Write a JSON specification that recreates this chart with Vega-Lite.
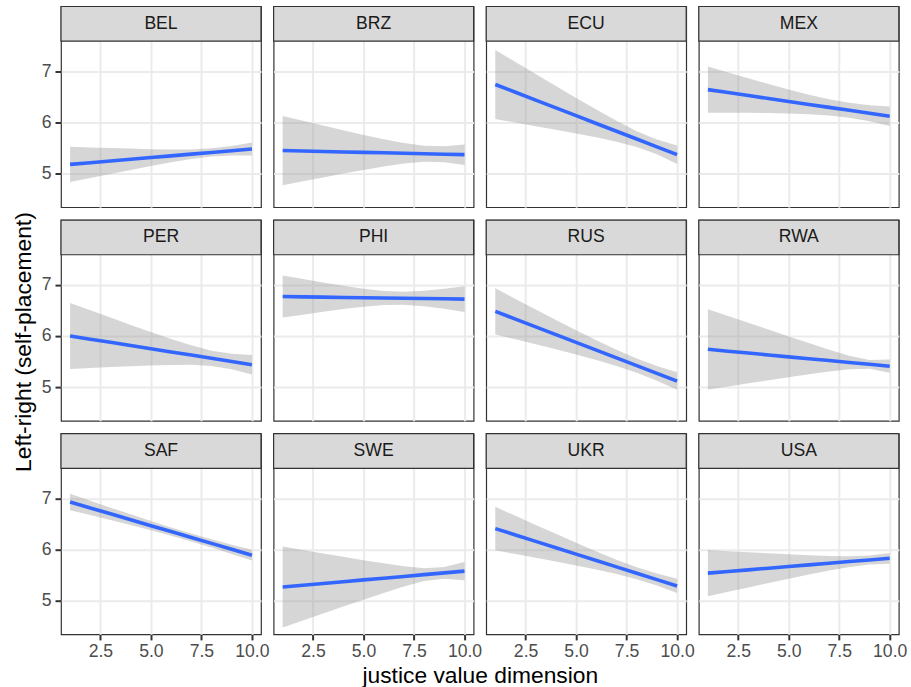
{
  "$schema": "https://vega.github.io/schema/vega-lite/v6.json",
  "padding": {"left": 11, "top": 4.5, "right": 5, "bottom": 2},
  "background": "white",
  "data": {"values": [
    {"country":"BEL","x":1,"fit":5.18,"lo":4.835,"hi":5.525},
    {"country":"BEL","x":2,"fit":5.213,"lo":4.914,"hi":5.512},
    {"country":"BEL","x":3,"fit":5.247,"lo":4.994,"hi":5.50},
    {"country":"BEL","x":4,"fit":5.28,"lo":5.072,"hi":5.488},
    {"country":"BEL","x":5,"fit":5.313,"lo":5.148,"hi":5.478},
    {"country":"BEL","x":6,"fit":5.347,"lo":5.222,"hi":5.472},
    {"country":"BEL","x":7,"fit":5.38,"lo":5.287,"hi":5.473},
    {"country":"BEL","x":8,"fit":5.413,"lo":5.333,"hi":5.493},
    {"country":"BEL","x":9,"fit":5.447,"lo":5.354,"hi":5.54},
    {"country":"BEL","x":10,"fit":5.48,"lo":5.355,"hi":5.605},
    {"country":"BRZ","x":1,"fit":5.45,"lo":4.775,"hi":6.125},
    {"country":"BRZ","x":2,"fit":5.441,"lo":4.851,"hi":6.031},
    {"country":"BRZ","x":3,"fit":5.432,"lo":4.926,"hi":5.938},
    {"country":"BRZ","x":4,"fit":5.423,"lo":5.0,"hi":5.846},
    {"country":"BRZ","x":5,"fit":5.414,"lo":5.072,"hi":5.756},
    {"country":"BRZ","x":6,"fit":5.406,"lo":5.14,"hi":5.672},
    {"country":"BRZ","x":7,"fit":5.397,"lo":5.197,"hi":5.597},
    {"country":"BRZ","x":8,"fit":5.388,"lo":5.231,"hi":5.545},
    {"country":"BRZ","x":9,"fit":5.379,"lo":5.222,"hi":5.536},
    {"country":"BRZ","x":10,"fit":5.37,"lo":5.17,"hi":5.57},
    {"country":"ECU","x":1,"fit":6.74,"lo":6.065,"hi":7.415},
    {"country":"ECU","x":2,"fit":6.588,"lo":5.996,"hi":7.18},
    {"country":"ECU","x":3,"fit":6.436,"lo":5.927,"hi":6.945},
    {"country":"ECU","x":4,"fit":6.283,"lo":5.856,"hi":6.71},
    {"country":"ECU","x":5,"fit":6.131,"lo":5.784,"hi":6.478},
    {"country":"ECU","x":6,"fit":5.979,"lo":5.708,"hi":6.25},
    {"country":"ECU","x":7,"fit":5.827,"lo":5.624,"hi":6.03},
    {"country":"ECU","x":8,"fit":5.675,"lo":5.521,"hi":5.829},
    {"country":"ECU","x":9,"fit":5.522,"lo":5.378,"hi":5.666},
    {"country":"ECU","x":10,"fit":5.37,"lo":5.19,"hi":5.55},
    {"country":"MEX","x":1,"fit":6.64,"lo":6.19,"hi":7.09},
    {"country":"MEX","x":2,"fit":6.582,"lo":6.189,"hi":6.975},
    {"country":"MEX","x":3,"fit":6.524,"lo":6.187,"hi":6.861},
    {"country":"MEX","x":4,"fit":6.467,"lo":6.183,"hi":6.751},
    {"country":"MEX","x":5,"fit":6.409,"lo":6.175,"hi":6.643},
    {"country":"MEX","x":6,"fit":6.351,"lo":6.161,"hi":6.541},
    {"country":"MEX","x":7,"fit":6.293,"lo":6.135,"hi":6.451},
    {"country":"MEX","x":8,"fit":6.236,"lo":6.09,"hi":6.382},
    {"country":"MEX","x":9,"fit":6.178,"lo":6.02,"hi":6.336},
    {"country":"MEX","x":10,"fit":6.12,"lo":5.93,"hi":6.31},
    {"country":"PER","x":1,"fit":6.0,"lo":5.355,"hi":6.645},
    {"country":"PER","x":2,"fit":5.938,"lo":5.375,"hi":6.501},
    {"country":"PER","x":3,"fit":5.876,"lo":5.393,"hi":6.359},
    {"country":"PER","x":4,"fit":5.813,"lo":5.41,"hi":6.216},
    {"country":"PER","x":5,"fit":5.751,"lo":5.425,"hi":6.077},
    {"country":"PER","x":6,"fit":5.689,"lo":5.436,"hi":5.942},
    {"country":"PER","x":7,"fit":5.627,"lo":5.437,"hi":5.817},
    {"country":"PER","x":8,"fit":5.564,"lo":5.415,"hi":5.713},
    {"country":"PER","x":9,"fit":5.502,"lo":5.353,"hi":5.651},
    {"country":"PER","x":10,"fit":5.44,"lo":5.25,"hi":5.63},
    {"country":"PHI","x":1,"fit":6.77,"lo":6.36,"hi":7.18},
    {"country":"PHI","x":2,"fit":6.764,"lo":6.417,"hi":7.111},
    {"country":"PHI","x":3,"fit":6.759,"lo":6.474,"hi":7.044},
    {"country":"PHI","x":4,"fit":6.753,"lo":6.526,"hi":6.98},
    {"country":"PHI","x":5,"fit":6.748,"lo":6.572,"hi":6.924},
    {"country":"PHI","x":6,"fit":6.742,"lo":6.603,"hi":6.881},
    {"country":"PHI","x":7,"fit":6.737,"lo":6.608,"hi":6.866},
    {"country":"PHI","x":8,"fit":6.731,"lo":6.58,"hi":6.882},
    {"country":"PHI","x":9,"fit":6.726,"lo":6.531,"hi":6.921},
    {"country":"PHI","x":10,"fit":6.72,"lo":6.47,"hi":6.97},
    {"country":"RUS","x":1,"fit":6.48,"lo":6.03,"hi":6.93},
    {"country":"RUS","x":2,"fit":6.329,"lo":5.935,"hi":6.723},
    {"country":"RUS","x":3,"fit":6.178,"lo":5.838,"hi":6.518},
    {"country":"RUS","x":4,"fit":6.027,"lo":5.74,"hi":6.314},
    {"country":"RUS","x":5,"fit":5.876,"lo":5.638,"hi":6.114},
    {"country":"RUS","x":6,"fit":5.724,"lo":5.531,"hi":5.917},
    {"country":"RUS","x":7,"fit":5.573,"lo":5.416,"hi":5.73},
    {"country":"RUS","x":8,"fit":5.422,"lo":5.283,"hi":5.561},
    {"country":"RUS","x":9,"fit":5.271,"lo":5.127,"hi":5.415},
    {"country":"RUS","x":10,"fit":5.12,"lo":4.95,"hi":5.29},
    {"country":"RWA","x":1,"fit":5.74,"lo":4.956,"hi":6.524},
    {"country":"RWA","x":2,"fit":5.703,"lo":5.015,"hi":6.391},
    {"country":"RWA","x":3,"fit":5.667,"lo":5.076,"hi":6.258},
    {"country":"RWA","x":4,"fit":5.63,"lo":5.135,"hi":6.125},
    {"country":"RWA","x":5,"fit":5.593,"lo":5.194,"hi":5.992},
    {"country":"RWA","x":6,"fit":5.557,"lo":5.252,"hi":5.862},
    {"country":"RWA","x":7,"fit":5.52,"lo":5.307,"hi":5.733},
    {"country":"RWA","x":8,"fit":5.483,"lo":5.353,"hi":5.613},
    {"country":"RWA","x":9,"fit":5.447,"lo":5.361,"hi":5.533},
    {"country":"RWA","x":10,"fit":5.41,"lo":5.28,"hi":5.54},
    {"country":"SAF","x":1,"fit":6.93,"lo":6.77,"hi":7.09},
    {"country":"SAF","x":2,"fit":6.814,"lo":6.674,"hi":6.954},
    {"country":"SAF","x":3,"fit":6.698,"lo":6.577,"hi":6.819},
    {"country":"SAF","x":4,"fit":6.583,"lo":6.478,"hi":6.688},
    {"country":"SAF","x":5,"fit":6.467,"lo":6.376,"hi":6.558},
    {"country":"SAF","x":6,"fit":6.352,"lo":6.271,"hi":6.433},
    {"country":"SAF","x":7,"fit":6.236,"lo":6.158,"hi":6.314},
    {"country":"SAF","x":8,"fit":6.121,"lo":6.04,"hi":6.202},
    {"country":"SAF","x":9,"fit":6.005,"lo":5.914,"hi":6.096},
    {"country":"SAF","x":10,"fit":5.89,"lo":5.785,"hi":5.995},
    {"country":"SWE","x":1,"fit":5.27,"lo":4.48,"hi":6.06},
    {"country":"SWE","x":2,"fit":5.304,"lo":4.616,"hi":5.992},
    {"country":"SWE","x":3,"fit":5.339,"lo":4.752,"hi":5.926},
    {"country":"SWE","x":4,"fit":5.373,"lo":4.887,"hi":5.859},
    {"country":"SWE","x":5,"fit":5.408,"lo":5.022,"hi":5.794},
    {"country":"SWE","x":6,"fit":5.442,"lo":5.153,"hi":5.731},
    {"country":"SWE","x":7,"fit":5.476,"lo":5.279,"hi":5.673},
    {"country":"SWE","x":8,"fit":5.511,"lo":5.387,"hi":5.635},
    {"country":"SWE","x":9,"fit":5.545,"lo":5.43,"hi":5.66},
    {"country":"SWE","x":10,"fit":5.58,"lo":5.40,"hi":5.76},
    {"country":"UKR","x":1,"fit":6.41,"lo":5.985,"hi":6.835},
    {"country":"UKR","x":2,"fit":6.286,"lo":5.913,"hi":6.659},
    {"country":"UKR","x":3,"fit":6.161,"lo":5.84,"hi":6.482},
    {"country":"UKR","x":4,"fit":6.037,"lo":5.766,"hi":6.308},
    {"country":"UKR","x":5,"fit":5.912,"lo":5.69,"hi":6.134},
    {"country":"UKR","x":6,"fit":5.788,"lo":5.611,"hi":5.965},
    {"country":"UKR","x":7,"fit":5.663,"lo":5.523,"hi":5.803},
    {"country":"UKR","x":8,"fit":5.539,"lo":5.422,"hi":5.656},
    {"country":"UKR","x":9,"fit":5.414,"lo":5.297,"hi":5.531},
    {"country":"UKR","x":10,"fit":5.29,"lo":5.15,"hi":5.43},
    {"country":"USA","x":1,"fit":5.54,"lo":5.09,"hi":5.99},
    {"country":"USA","x":2,"fit":5.572,"lo":5.176,"hi":5.968},
    {"country":"USA","x":3,"fit":5.604,"lo":5.261,"hi":5.947},
    {"country":"USA","x":4,"fit":5.637,"lo":5.347,"hi":5.927},
    {"country":"USA","x":5,"fit":5.669,"lo":5.431,"hi":5.907},
    {"country":"USA","x":6,"fit":5.701,"lo":5.513,"hi":5.889},
    {"country":"USA","x":7,"fit":5.733,"lo":5.591,"hi":5.875},
    {"country":"USA","x":8,"fit":5.766,"lo":5.661,"hi":5.871},
    {"country":"USA","x":9,"fit":5.798,"lo":5.709,"hi":5.887},
    {"country":"USA","x":10,"fit":5.83,"lo":5.725,"hi":5.935}
  ]},
  "columns": 4,
  "spacing": {"row": 12.6, "column": 12.6},
  "bounds": "flush",
  "concat": [
    {"width":200,"height":200.7,"transform":[{"filter":"datum.country == 'BEL'"}],"resolve":{"axis":{"x":"independent","y":"independent"}},"layer":[
      {"mark":{"type":"area","color":"#999999","opacity":0.4},"encoding":{
        "x":{"field":"x","type":"quantitative","scale":{"domain":[0.55,10.45],"nice":false,"zero":false},"axis":{"values":[2.5,5,7.5,10],"gridWidth":2,"labels":false,"ticks":false,"title":null}},
        "y":{"field":"lo","type":"quantitative","scale":{"domain":[4.344,8.263],"nice":false,"zero":false},"axis":{"values":[5,6,7],"format":"d","gridWidth":2,"title":null}},
        "y2":{"field":"hi"}}},
      {"mark":{"type":"line","color":"#3366FF","strokeWidth":3.6},"encoding":{"x":{"field":"x","type":"quantitative","axis":{"values":[1.25,3.75,6.25,8.75],"gridWidth":1,"labels":false,"ticks":false,"title":null,"orient":"top"}},"y":{"field":"fit","type":"quantitative","axis":{"values":[4.5,5.5,6.5,7.5],"gridWidth":1,"labels":false,"ticks":false,"title":null,"orient":"right"}}}},
      {"transform":[{"filter":"datum.x == 1"}],"mark":{"type":"rect","fill":"#D9D9D9","stroke":"#333333","strokeWidth":1.2},"encoding":{"x":{"datum":0.55,"type":"quantitative","axis":null},"x2":{"datum":10.45},"y":{"datum":7.586,"type":"quantitative","axis":null},"y2":{"datum":8.263}}},
      {"transform":[{"filter":"datum.x == 1"}],"mark":{"type":"text","font":"Liberation Sans","fontSize":17.6,"color":"#1A1A1A","baseline":"middle","align":"center"},"encoding":{"x":{"datum":5.5,"type":"quantitative","axis":null},"y":{"datum":7.925,"type":"quantitative","axis":null},"text":{"field":"country","type":"nominal"}}}
    ]},
    {"width":200,"height":200.7,"transform":[{"filter":"datum.country == 'BRZ'"}],"resolve":{"axis":{"x":"independent","y":"independent"}},"layer":[
      {"mark":{"type":"area","color":"#999999","opacity":0.4},"encoding":{
        "x":{"field":"x","type":"quantitative","scale":{"domain":[0.55,10.45],"nice":false,"zero":false},"axis":{"values":[2.5,5,7.5,10],"gridWidth":2,"labels":false,"ticks":false,"title":null}},
        "y":{"field":"lo","type":"quantitative","scale":{"domain":[4.344,8.263],"nice":false,"zero":false},"axis":{"values":[5,6,7],"gridWidth":2,"labels":false,"ticks":false,"title":null}},
        "y2":{"field":"hi"}}},
      {"mark":{"type":"line","color":"#3366FF","strokeWidth":3.6},"encoding":{"x":{"field":"x","type":"quantitative","axis":{"values":[1.25,3.75,6.25,8.75],"gridWidth":1,"labels":false,"ticks":false,"title":null,"orient":"top"}},"y":{"field":"fit","type":"quantitative","axis":{"values":[4.5,5.5,6.5,7.5],"gridWidth":1,"labels":false,"ticks":false,"title":null,"orient":"right"}}}},
      {"transform":[{"filter":"datum.x == 1"}],"mark":{"type":"rect","fill":"#D9D9D9","stroke":"#333333","strokeWidth":1.2},"encoding":{"x":{"datum":0.55,"type":"quantitative","axis":null},"x2":{"datum":10.45},"y":{"datum":7.586,"type":"quantitative","axis":null},"y2":{"datum":8.263}}},
      {"transform":[{"filter":"datum.x == 1"}],"mark":{"type":"text","font":"Liberation Sans","fontSize":17.6,"color":"#1A1A1A","baseline":"middle","align":"center"},"encoding":{"x":{"datum":5.5,"type":"quantitative","axis":null},"y":{"datum":7.925,"type":"quantitative","axis":null},"text":{"field":"country","type":"nominal"}}}
    ]},
    {"width":200,"height":200.7,"transform":[{"filter":"datum.country == 'ECU'"}],"resolve":{"axis":{"x":"independent","y":"independent"}},"layer":[
      {"mark":{"type":"area","color":"#999999","opacity":0.4},"encoding":{
        "x":{"field":"x","type":"quantitative","scale":{"domain":[0.55,10.45],"nice":false,"zero":false},"axis":{"values":[2.5,5,7.5,10],"gridWidth":2,"labels":false,"ticks":false,"title":null}},
        "y":{"field":"lo","type":"quantitative","scale":{"domain":[4.344,8.263],"nice":false,"zero":false},"axis":{"values":[5,6,7],"gridWidth":2,"labels":false,"ticks":false,"title":null}},
        "y2":{"field":"hi"}}},
      {"mark":{"type":"line","color":"#3366FF","strokeWidth":3.6},"encoding":{"x":{"field":"x","type":"quantitative","axis":{"values":[1.25,3.75,6.25,8.75],"gridWidth":1,"labels":false,"ticks":false,"title":null,"orient":"top"}},"y":{"field":"fit","type":"quantitative","axis":{"values":[4.5,5.5,6.5,7.5],"gridWidth":1,"labels":false,"ticks":false,"title":null,"orient":"right"}}}},
      {"transform":[{"filter":"datum.x == 1"}],"mark":{"type":"rect","fill":"#D9D9D9","stroke":"#333333","strokeWidth":1.2},"encoding":{"x":{"datum":0.55,"type":"quantitative","axis":null},"x2":{"datum":10.45},"y":{"datum":7.586,"type":"quantitative","axis":null},"y2":{"datum":8.263}}},
      {"transform":[{"filter":"datum.x == 1"}],"mark":{"type":"text","font":"Liberation Sans","fontSize":17.6,"color":"#1A1A1A","baseline":"middle","align":"center"},"encoding":{"x":{"datum":5.5,"type":"quantitative","axis":null},"y":{"datum":7.925,"type":"quantitative","axis":null},"text":{"field":"country","type":"nominal"}}}
    ]},
    {"width":200,"height":200.7,"transform":[{"filter":"datum.country == 'MEX'"}],"resolve":{"axis":{"x":"independent","y":"independent"}},"layer":[
      {"mark":{"type":"area","color":"#999999","opacity":0.4},"encoding":{
        "x":{"field":"x","type":"quantitative","scale":{"domain":[0.55,10.45],"nice":false,"zero":false},"axis":{"values":[2.5,5,7.5,10],"gridWidth":2,"labels":false,"ticks":false,"title":null}},
        "y":{"field":"lo","type":"quantitative","scale":{"domain":[4.344,8.263],"nice":false,"zero":false},"axis":{"values":[5,6,7],"gridWidth":2,"labels":false,"ticks":false,"title":null}},
        "y2":{"field":"hi"}}},
      {"mark":{"type":"line","color":"#3366FF","strokeWidth":3.6},"encoding":{"x":{"field":"x","type":"quantitative","axis":{"values":[1.25,3.75,6.25,8.75],"gridWidth":1,"labels":false,"ticks":false,"title":null,"orient":"top"}},"y":{"field":"fit","type":"quantitative","axis":{"values":[4.5,5.5,6.5,7.5],"gridWidth":1,"labels":false,"ticks":false,"title":null,"orient":"right"}}}},
      {"transform":[{"filter":"datum.x == 1"}],"mark":{"type":"rect","fill":"#D9D9D9","stroke":"#333333","strokeWidth":1.2},"encoding":{"x":{"datum":0.55,"type":"quantitative","axis":null},"x2":{"datum":10.45},"y":{"datum":7.586,"type":"quantitative","axis":null},"y2":{"datum":8.263}}},
      {"transform":[{"filter":"datum.x == 1"}],"mark":{"type":"text","font":"Liberation Sans","fontSize":17.6,"color":"#1A1A1A","baseline":"middle","align":"center"},"encoding":{"x":{"datum":5.5,"type":"quantitative","axis":null},"y":{"datum":7.925,"type":"quantitative","axis":null},"text":{"field":"country","type":"nominal"}}}
    ]},
    {"width":200,"height":200.7,"transform":[{"filter":"datum.country == 'PER'"}],"resolve":{"axis":{"x":"independent","y":"independent"}},"layer":[
      {"mark":{"type":"area","color":"#999999","opacity":0.4},"encoding":{
        "x":{"field":"x","type":"quantitative","scale":{"domain":[0.55,10.45],"nice":false,"zero":false},"axis":{"values":[2.5,5,7.5,10],"gridWidth":2,"labels":false,"ticks":false,"title":null}},
        "y":{"field":"lo","type":"quantitative","scale":{"domain":[4.344,8.263],"nice":false,"zero":false},"axis":{"values":[5,6,7],"format":"d","gridWidth":2,"title":"Left-right (self-placement)","titleY":121.5}},
        "y2":{"field":"hi"}}},
      {"mark":{"type":"line","color":"#3366FF","strokeWidth":3.6},"encoding":{"x":{"field":"x","type":"quantitative","axis":{"values":[1.25,3.75,6.25,8.75],"gridWidth":1,"labels":false,"ticks":false,"title":null,"orient":"top"}},"y":{"field":"fit","type":"quantitative","axis":{"values":[4.5,5.5,6.5,7.5],"gridWidth":1,"labels":false,"ticks":false,"title":null,"orient":"right"}}}},
      {"transform":[{"filter":"datum.x == 1"}],"mark":{"type":"rect","fill":"#D9D9D9","stroke":"#333333","strokeWidth":1.2},"encoding":{"x":{"datum":0.55,"type":"quantitative","axis":null},"x2":{"datum":10.45},"y":{"datum":7.586,"type":"quantitative","axis":null},"y2":{"datum":8.263}}},
      {"transform":[{"filter":"datum.x == 1"}],"mark":{"type":"text","font":"Liberation Sans","fontSize":17.6,"color":"#1A1A1A","baseline":"middle","align":"center"},"encoding":{"x":{"datum":5.5,"type":"quantitative","axis":null},"y":{"datum":7.925,"type":"quantitative","axis":null},"text":{"field":"country","type":"nominal"}}}
    ]},
    {"width":200,"height":200.7,"transform":[{"filter":"datum.country == 'PHI'"}],"resolve":{"axis":{"x":"independent","y":"independent"}},"layer":[
      {"mark":{"type":"area","color":"#999999","opacity":0.4},"encoding":{
        "x":{"field":"x","type":"quantitative","scale":{"domain":[0.55,10.45],"nice":false,"zero":false},"axis":{"values":[2.5,5,7.5,10],"gridWidth":2,"labels":false,"ticks":false,"title":null}},
        "y":{"field":"lo","type":"quantitative","scale":{"domain":[4.344,8.263],"nice":false,"zero":false},"axis":{"values":[5,6,7],"gridWidth":2,"labels":false,"ticks":false,"title":null}},
        "y2":{"field":"hi"}}},
      {"mark":{"type":"line","color":"#3366FF","strokeWidth":3.6},"encoding":{"x":{"field":"x","type":"quantitative","axis":{"values":[1.25,3.75,6.25,8.75],"gridWidth":1,"labels":false,"ticks":false,"title":null,"orient":"top"}},"y":{"field":"fit","type":"quantitative","axis":{"values":[4.5,5.5,6.5,7.5],"gridWidth":1,"labels":false,"ticks":false,"title":null,"orient":"right"}}}},
      {"transform":[{"filter":"datum.x == 1"}],"mark":{"type":"rect","fill":"#D9D9D9","stroke":"#333333","strokeWidth":1.2},"encoding":{"x":{"datum":0.55,"type":"quantitative","axis":null},"x2":{"datum":10.45},"y":{"datum":7.586,"type":"quantitative","axis":null},"y2":{"datum":8.263}}},
      {"transform":[{"filter":"datum.x == 1"}],"mark":{"type":"text","font":"Liberation Sans","fontSize":17.6,"color":"#1A1A1A","baseline":"middle","align":"center"},"encoding":{"x":{"datum":5.5,"type":"quantitative","axis":null},"y":{"datum":7.925,"type":"quantitative","axis":null},"text":{"field":"country","type":"nominal"}}}
    ]},
    {"width":200,"height":200.7,"transform":[{"filter":"datum.country == 'RUS'"}],"resolve":{"axis":{"x":"independent","y":"independent"}},"layer":[
      {"mark":{"type":"area","color":"#999999","opacity":0.4},"encoding":{
        "x":{"field":"x","type":"quantitative","scale":{"domain":[0.55,10.45],"nice":false,"zero":false},"axis":{"values":[2.5,5,7.5,10],"gridWidth":2,"labels":false,"ticks":false,"title":null}},
        "y":{"field":"lo","type":"quantitative","scale":{"domain":[4.344,8.263],"nice":false,"zero":false},"axis":{"values":[5,6,7],"gridWidth":2,"labels":false,"ticks":false,"title":null}},
        "y2":{"field":"hi"}}},
      {"mark":{"type":"line","color":"#3366FF","strokeWidth":3.6},"encoding":{"x":{"field":"x","type":"quantitative","axis":{"values":[1.25,3.75,6.25,8.75],"gridWidth":1,"labels":false,"ticks":false,"title":null,"orient":"top"}},"y":{"field":"fit","type":"quantitative","axis":{"values":[4.5,5.5,6.5,7.5],"gridWidth":1,"labels":false,"ticks":false,"title":null,"orient":"right"}}}},
      {"transform":[{"filter":"datum.x == 1"}],"mark":{"type":"rect","fill":"#D9D9D9","stroke":"#333333","strokeWidth":1.2},"encoding":{"x":{"datum":0.55,"type":"quantitative","axis":null},"x2":{"datum":10.45},"y":{"datum":7.586,"type":"quantitative","axis":null},"y2":{"datum":8.263}}},
      {"transform":[{"filter":"datum.x == 1"}],"mark":{"type":"text","font":"Liberation Sans","fontSize":17.6,"color":"#1A1A1A","baseline":"middle","align":"center"},"encoding":{"x":{"datum":5.5,"type":"quantitative","axis":null},"y":{"datum":7.925,"type":"quantitative","axis":null},"text":{"field":"country","type":"nominal"}}}
    ]},
    {"width":200,"height":200.7,"transform":[{"filter":"datum.country == 'RWA'"}],"resolve":{"axis":{"x":"independent","y":"independent"}},"layer":[
      {"mark":{"type":"area","color":"#999999","opacity":0.4},"encoding":{
        "x":{"field":"x","type":"quantitative","scale":{"domain":[0.55,10.45],"nice":false,"zero":false},"axis":{"values":[2.5,5,7.5,10],"gridWidth":2,"labels":false,"ticks":false,"title":null}},
        "y":{"field":"lo","type":"quantitative","scale":{"domain":[4.344,8.263],"nice":false,"zero":false},"axis":{"values":[5,6,7],"gridWidth":2,"labels":false,"ticks":false,"title":null}},
        "y2":{"field":"hi"}}},
      {"mark":{"type":"line","color":"#3366FF","strokeWidth":3.6},"encoding":{"x":{"field":"x","type":"quantitative","axis":{"values":[1.25,3.75,6.25,8.75],"gridWidth":1,"labels":false,"ticks":false,"title":null,"orient":"top"}},"y":{"field":"fit","type":"quantitative","axis":{"values":[4.5,5.5,6.5,7.5],"gridWidth":1,"labels":false,"ticks":false,"title":null,"orient":"right"}}}},
      {"transform":[{"filter":"datum.x == 1"}],"mark":{"type":"rect","fill":"#D9D9D9","stroke":"#333333","strokeWidth":1.2},"encoding":{"x":{"datum":0.55,"type":"quantitative","axis":null},"x2":{"datum":10.45},"y":{"datum":7.586,"type":"quantitative","axis":null},"y2":{"datum":8.263}}},
      {"transform":[{"filter":"datum.x == 1"}],"mark":{"type":"text","font":"Liberation Sans","fontSize":17.6,"color":"#1A1A1A","baseline":"middle","align":"center"},"encoding":{"x":{"datum":5.5,"type":"quantitative","axis":null},"y":{"datum":7.925,"type":"quantitative","axis":null},"text":{"field":"country","type":"nominal"}}}
    ]},
    {"width":200,"height":200.7,"transform":[{"filter":"datum.country == 'SAF'"}],"resolve":{"axis":{"x":"independent","y":"independent"}},"layer":[
      {"mark":{"type":"area","color":"#999999","opacity":0.4},"encoding":{
        "x":{"field":"x","type":"quantitative","scale":{"domain":[0.55,10.45],"nice":false,"zero":false},"axis":{"values":[2.5,5,7.5,10],"format":".1f","labelFlush":false,"gridWidth":2,"title":null}},
        "y":{"field":"lo","type":"quantitative","scale":{"domain":[4.344,8.263],"nice":false,"zero":false},"axis":{"values":[5,6,7],"format":"d","gridWidth":2,"title":null}},
        "y2":{"field":"hi"}}},
      {"mark":{"type":"line","color":"#3366FF","strokeWidth":3.6},"encoding":{"x":{"field":"x","type":"quantitative","axis":{"values":[1.25,3.75,6.25,8.75],"gridWidth":1,"labels":false,"ticks":false,"title":null,"orient":"top"}},"y":{"field":"fit","type":"quantitative","axis":{"values":[4.5,5.5,6.5,7.5],"gridWidth":1,"labels":false,"ticks":false,"title":null,"orient":"right"}}}},
      {"transform":[{"filter":"datum.x == 1"}],"mark":{"type":"rect","fill":"#D9D9D9","stroke":"#333333","strokeWidth":1.2},"encoding":{"x":{"datum":0.55,"type":"quantitative","axis":null},"x2":{"datum":10.45},"y":{"datum":7.586,"type":"quantitative","axis":null},"y2":{"datum":8.263}}},
      {"transform":[{"filter":"datum.x == 1"}],"mark":{"type":"text","font":"Liberation Sans","fontSize":17.6,"color":"#1A1A1A","baseline":"middle","align":"center"},"encoding":{"x":{"datum":5.5,"type":"quantitative","axis":null},"y":{"datum":7.925,"type":"quantitative","axis":null},"text":{"field":"country","type":"nominal"}}}
    ]},
    {"width":200,"height":200.7,"transform":[{"filter":"datum.country == 'SWE'"}],"resolve":{"axis":{"x":"independent","y":"independent"}},"layer":[
      {"mark":{"type":"area","color":"#999999","opacity":0.4},"encoding":{
        "x":{"field":"x","type":"quantitative","scale":{"domain":[0.55,10.45],"nice":false,"zero":false},"axis":{"values":[2.5,5,7.5,10],"format":".1f","labelFlush":false,"gridWidth":2,"title":"justice value dimension","titleX":206.2}},
        "y":{"field":"lo","type":"quantitative","scale":{"domain":[4.344,8.263],"nice":false,"zero":false},"axis":{"values":[5,6,7],"gridWidth":2,"labels":false,"ticks":false,"title":null}},
        "y2":{"field":"hi"}}},
      {"mark":{"type":"line","color":"#3366FF","strokeWidth":3.6},"encoding":{"x":{"field":"x","type":"quantitative","axis":{"values":[1.25,3.75,6.25,8.75],"gridWidth":1,"labels":false,"ticks":false,"title":null,"orient":"top"}},"y":{"field":"fit","type":"quantitative","axis":{"values":[4.5,5.5,6.5,7.5],"gridWidth":1,"labels":false,"ticks":false,"title":null,"orient":"right"}}}},
      {"transform":[{"filter":"datum.x == 1"}],"mark":{"type":"rect","fill":"#D9D9D9","stroke":"#333333","strokeWidth":1.2},"encoding":{"x":{"datum":0.55,"type":"quantitative","axis":null},"x2":{"datum":10.45},"y":{"datum":7.586,"type":"quantitative","axis":null},"y2":{"datum":8.263}}},
      {"transform":[{"filter":"datum.x == 1"}],"mark":{"type":"text","font":"Liberation Sans","fontSize":17.6,"color":"#1A1A1A","baseline":"middle","align":"center"},"encoding":{"x":{"datum":5.5,"type":"quantitative","axis":null},"y":{"datum":7.925,"type":"quantitative","axis":null},"text":{"field":"country","type":"nominal"}}}
    ]},
    {"width":200,"height":200.7,"transform":[{"filter":"datum.country == 'UKR'"}],"resolve":{"axis":{"x":"independent","y":"independent"}},"layer":[
      {"mark":{"type":"area","color":"#999999","opacity":0.4},"encoding":{
        "x":{"field":"x","type":"quantitative","scale":{"domain":[0.55,10.45],"nice":false,"zero":false},"axis":{"values":[2.5,5,7.5,10],"format":".1f","labelFlush":false,"gridWidth":2,"title":null}},
        "y":{"field":"lo","type":"quantitative","scale":{"domain":[4.344,8.263],"nice":false,"zero":false},"axis":{"values":[5,6,7],"gridWidth":2,"labels":false,"ticks":false,"title":null}},
        "y2":{"field":"hi"}}},
      {"mark":{"type":"line","color":"#3366FF","strokeWidth":3.6},"encoding":{"x":{"field":"x","type":"quantitative","axis":{"values":[1.25,3.75,6.25,8.75],"gridWidth":1,"labels":false,"ticks":false,"title":null,"orient":"top"}},"y":{"field":"fit","type":"quantitative","axis":{"values":[4.5,5.5,6.5,7.5],"gridWidth":1,"labels":false,"ticks":false,"title":null,"orient":"right"}}}},
      {"transform":[{"filter":"datum.x == 1"}],"mark":{"type":"rect","fill":"#D9D9D9","stroke":"#333333","strokeWidth":1.2},"encoding":{"x":{"datum":0.55,"type":"quantitative","axis":null},"x2":{"datum":10.45},"y":{"datum":7.586,"type":"quantitative","axis":null},"y2":{"datum":8.263}}},
      {"transform":[{"filter":"datum.x == 1"}],"mark":{"type":"text","font":"Liberation Sans","fontSize":17.6,"color":"#1A1A1A","baseline":"middle","align":"center"},"encoding":{"x":{"datum":5.5,"type":"quantitative","axis":null},"y":{"datum":7.925,"type":"quantitative","axis":null},"text":{"field":"country","type":"nominal"}}}
    ]},
    {"width":200,"height":200.7,"transform":[{"filter":"datum.country == 'USA'"}],"resolve":{"axis":{"x":"independent","y":"independent"}},"layer":[
      {"mark":{"type":"area","color":"#999999","opacity":0.4},"encoding":{
        "x":{"field":"x","type":"quantitative","scale":{"domain":[0.55,10.45],"nice":false,"zero":false},"axis":{"values":[2.5,5,7.5,10],"format":".1f","labelFlush":false,"gridWidth":2,"title":null}},
        "y":{"field":"lo","type":"quantitative","scale":{"domain":[4.344,8.263],"nice":false,"zero":false},"axis":{"values":[5,6,7],"gridWidth":2,"labels":false,"ticks":false,"title":null}},
        "y2":{"field":"hi"}}},
      {"mark":{"type":"line","color":"#3366FF","strokeWidth":3.6},"encoding":{"x":{"field":"x","type":"quantitative","axis":{"values":[1.25,3.75,6.25,8.75],"gridWidth":1,"labels":false,"ticks":false,"title":null,"orient":"top"}},"y":{"field":"fit","type":"quantitative","axis":{"values":[4.5,5.5,6.5,7.5],"gridWidth":1,"labels":false,"ticks":false,"title":null,"orient":"right"}}}},
      {"transform":[{"filter":"datum.x == 1"}],"mark":{"type":"rect","fill":"#D9D9D9","stroke":"#333333","strokeWidth":1.2},"encoding":{"x":{"datum":0.55,"type":"quantitative","axis":null},"x2":{"datum":10.45},"y":{"datum":7.586,"type":"quantitative","axis":null},"y2":{"datum":8.263}}},
      {"transform":[{"filter":"datum.x == 1"}],"mark":{"type":"text","font":"Liberation Sans","fontSize":17.6,"color":"#1A1A1A","baseline":"middle","align":"center"},"encoding":{"x":{"datum":5.5,"type":"quantitative","axis":null},"y":{"datum":7.925,"type":"quantitative","axis":null},"text":{"field":"country","type":"nominal"}}}
    ]}
  ],
  "config": {
    "view": {"stroke": "#333333", "strokeWidth": 1.2},
    "axis": {
      "domain": false,
      "labelOverlap": false,
      "labelFont": "Liberation Sans",
      "labelFontSize": 17.6,
      "labelColor": "#4D4D4D",
      "tickColor": "#333333",
      "tickWidth": 2,
      "gridColor": "#EBEBEB",
      "titleFont": "Liberation Sans",
      "titleFontSize": 22.8,
      "titleFontWeight": "normal",
      "titleColor": "#000000"
    },
    "axisX": {"labelPadding": 3, "tickSize": 5.5, "titlePadding": 4},
    "axisY": {"labelPadding": 4, "tickSize": 6, "titlePadding": 6}
  }
}
